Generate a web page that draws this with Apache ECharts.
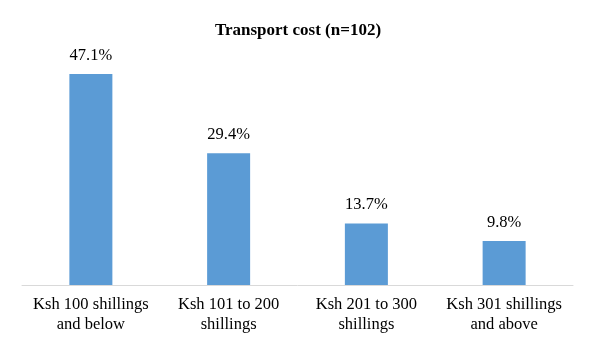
<!DOCTYPE html>
<html><head><meta charset="utf-8">
<script src="https://cdn.jsdelivr.net/npm/echarts@6/dist/echarts.min.js"></script>
<style>html,body{margin:0;padding:0;background:#fff}#c{width:596px;height:348px}</style>
</head><body><div id="c"></div>
<script>
var categories = ["Ksh 100 shillings\nand below", "Ksh 101 to 200\nshillings", "Ksh 201 to 300\nshillings", "Ksh 301 shillings\nand above"];
var values = [47.1, 29.4, 13.7, 9.8];
var titleText = "Transport cost (n=102)";
var chart = echarts.init(document.getElementById('c'));
chart.setOption({
  animation: false,
  title: {text: titleText, left: 'center', top: 17,
    textStyle: {fontFamily: 'Liberation Serif', fontWeight: 'bold', fontSize: 17, color: '#000'}},
  grid: {left: 22, right: 23, top: 61, bottom: 63},
  xAxis: {type: 'category', data: categories,
    axisLine: {lineStyle: {color: '#d9d9d9', width: 1}},
    axisTick: {show: false},
    axisLabel: {interval: 0, fontFamily: 'Liberation Serif', fontSize: 16.5, color: '#000', lineHeight: 20, margin: 10}},
  yAxis: {type: 'value', min: 0, max: 50, show: false, splitLine: {show: false}},
  series: [{type: 'bar', data: values, barWidth: 43,
    itemStyle: {color: '#5b9bd5'},
    label: {show: true, position: 'top', distance: 10, formatter: function(p){return p.value.toFixed(1)+'%';},
      fontFamily: 'Liberation Serif', fontSize: 16.5, color: '#000'}}]
});
</script></body></html>
